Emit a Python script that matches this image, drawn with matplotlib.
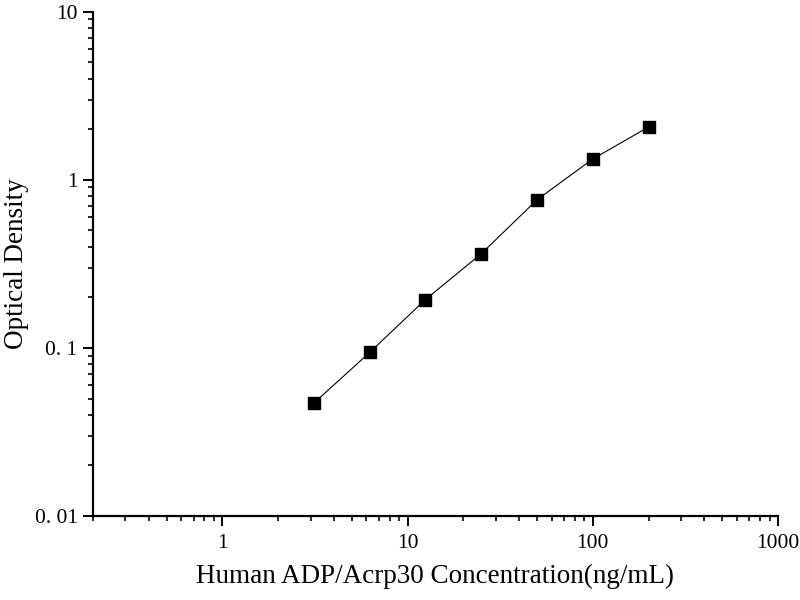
import numpy as np
import matplotlib.pyplot as plt
from matplotlib.ticker import FixedLocator, FixedFormatter, LogLocator, NullFormatter

# standard curve data
conc = [3.125, 6.25, 12.5, 25, 50, 100, 200]
od = [0.047, 0.094, 0.194, 0.363, 0.76, 1.33, 2.06]

x_ticks = [1, 10, 100, 1000]
x_labels = ['1', '10', '100', '1000']
y_ticks = [0.01, 0.1, 1, 10]
y_labels = ['0. 01', '0. 1', '1', '10']

plt.rcParams['font.family'] = ['Liberation Serif', 'DejaVu Serif']

fig = plt.figure(figsize=(8, 6), dpi=100)
ax = fig.add_axes([0.116, 0.14, 0.8565, 0.8405])

ax.plot(conc, od, color='black', linewidth=0.8, marker='s',
        markersize=8.5, markerfacecolor='black', markeredgecolor='black')

ax.set_xscale('log')
ax.set_yscale('log')
ax.set_xlim(0.2, 1000)
ax.set_ylim(0.01, 10)

ax.xaxis.set_major_locator(FixedLocator(x_ticks))
ax.xaxis.set_major_formatter(FixedFormatter(x_labels))
ax.xaxis.set_minor_locator(LogLocator(base=10, subs=np.arange(2, 10)))
ax.xaxis.set_minor_formatter(NullFormatter())
ax.yaxis.set_major_locator(FixedLocator(y_ticks))
ax.yaxis.set_major_formatter(FixedFormatter(y_labels))
ax.yaxis.set_minor_locator(LogLocator(base=10, subs=np.arange(2, 10)))
ax.yaxis.set_minor_formatter(NullFormatter())

for s in ['top', 'right']:
    ax.spines[s].set_visible(False)
for s in ['left', 'bottom']:
    ax.spines[s].set_linewidth(1.6)

ax.tick_params(which='major', direction='out', length=7, width=1.4,
               labelsize=15.5, pad=6)
ax.tick_params(axis='y', which='major', pad=4)
ax.tick_params(which='minor', direction='out', length=3.5, width=1.2)

ax.set_xlabel('Human ADP/Acrp30 Concentration(ng/mL)', fontsize=19.5, labelpad=8)
ax.set_ylabel('Optical Density', fontsize=19.5, labelpad=4)

fig.savefig('out.png', dpi=100)
